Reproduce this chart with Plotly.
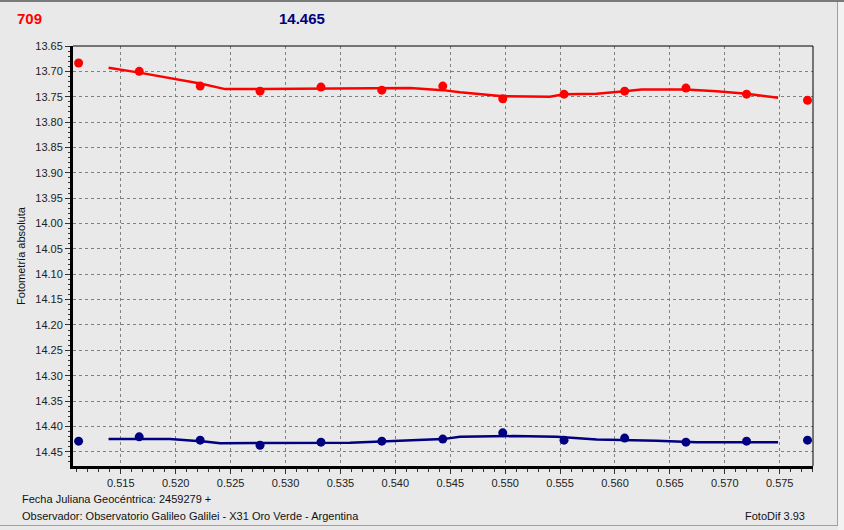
import plotly.graph_objects as go

# ---- data ----
jd_points = [0.51116, 0.51668, 0.52223, 0.52768, 0.53323, 0.53877, 0.54432,
             0.54978, 0.55536, 0.56088, 0.56646, 0.57198, 0.57753]
var_mag = [13.6835, 13.700, 13.729, 13.739, 13.731, 13.737, 13.729,
           13.754, 13.745, 13.739, 13.733, 13.745, 13.757]
cmp_mag = [14.429, 14.4205, 14.427, 14.437, 14.431, 14.429, 14.425,
           14.4126, 14.427, 14.423, 14.431, 14.429, 14.427]

var_fit_x = [0.51389, 0.51668, 0.52223, 0.52451, 0.52768, 0.53323, 0.53588,
             0.53877, 0.54134, 0.54432, 0.54589, 0.54978, 0.55407, 0.55536,
             0.55833, 0.56088, 0.56240, 0.56646, 0.56925, 0.57198, 0.57485]
var_fit_y = [13.693, 13.7025, 13.724, 13.735, 13.735, 13.734, 13.733,
             13.733, 13.733, 13.737, 13.741, 13.749, 13.750, 13.745,
             13.744, 13.739, 13.736, 13.736, 13.739, 13.744, 13.752]

cmp_fit_x = [0.51389, 0.51950, 0.52283, 0.52405, 0.53588, 0.53877, 0.54432,
             0.54589, 0.54707, 0.55071, 0.55469, 0.55833, 0.56379, 0.56743, 0.57485]
cmp_fit_y = [14.425, 14.425, 14.430, 14.433, 14.432, 14.430, 14.425,
             14.4205, 14.420, 14.419, 14.4205, 14.426, 14.428, 14.431, 14.431]

title_left = "709"
title_mid = "14.465"
y_title = "Fotometría absoluta"
foot1 = "Fecha Juliana Geocéntrica: 2459279 +"
foot2 = "Observador: Observatorio Galileo Galilei - X31 Oro Verde - Argentina"
foot3 = "FotoDif 3.93"

x_range = [0.51065, 0.57803]
y_range = [14.478, 13.65]

RED = "#ff0000"
BLUE = "#000080"
BG = "#e9e9e9"
FONT = "Liberation Sans"

fig = go.Figure()
fig.add_trace(go.Scatter(x=var_fit_x, y=var_fit_y, mode="lines",
                         line=dict(color=RED, width=2.5), hoverinfo="skip"))
fig.add_trace(go.Scatter(x=jd_points, y=var_mag, mode="markers",
                         marker=dict(color=RED, size=9), hoverinfo="skip"))
fig.add_trace(go.Scatter(x=cmp_fit_x, y=cmp_fit_y, mode="lines",
                         line=dict(color=BLUE, width=2.5), hoverinfo="skip"))
fig.add_trace(go.Scatter(x=jd_points, y=cmp_mag, mode="markers",
                         marker=dict(color=BLUE, size=9), hoverinfo="skip"))

axis_common = dict(
    showgrid=True, gridcolor="#808080", griddash="3px,3px", gridwidth=1,
    showline=True, linecolor="black", linewidth=3, zeroline=False,
    ticks="outside", ticklen=5, tickcolor="#333333",
    tickfont=dict(family=FONT, size=11, color="#222222"),
)

fig.update_xaxes(range=x_range, tick0=0.515, dtick=0.005, tickformat=".3f",
                 minor=dict(dtick=0.001, tick0=0.515, ticks="outside", ticklen=3,
                            tickcolor="#333333", showgrid=False),
                 **axis_common)
fig.update_yaxes(range=y_range, tick0=13.65, dtick=0.05, tickformat=".2f",
                 minor=dict(dtick=0.01, tick0=13.65, ticks="outside", ticklen=2,
                            tickcolor="#333333", showgrid=False),
                 title=dict(text=y_title, font=dict(family=FONT, size=11, color="#111111"),
                            standoff=8),
                 **axis_common)

W, H = 844, 530
L, R, T, B = 73, 31, 46, 64
pw, ph = W - L - R, H - T - B

def px(xp):
    return (xp - L) / pw

def py(yp):
    return 1 - (yp - T) / ph

shapes = [
    # thin top & right plot border
    dict(type="line", xref="paper", yref="paper", x0=0, x1=1, y0=1, y1=1,
         line=dict(color="black", width=1)),
    dict(type="line", xref="paper", yref="paper", x0=1, x1=1, y0=0, y1=1,
         line=dict(color="black", width=1)),
    # window frame
    dict(type="line", xref="paper", yref="paper", x0=px(0), x1=px(844), y0=py(1), y1=py(1),
         line=dict(color="#7a7a7a", width=2)),
    dict(type="line", xref="paper", yref="paper", x0=px(837.5), x1=px(837.5), y0=py(2), y1=py(525),
         line=dict(color="#a0a0a0", width=1)),
    dict(type="line", xref="paper", yref="paper", x0=px(0), x1=px(838), y0=py(525.5), y1=py(525.5),
         line=dict(color="#a0a0a0", width=1)),
    dict(type="rect", xref="paper", yref="paper", x0=px(838), x1=px(844), y0=py(2), y1=py(530),
         fillcolor="#f2f2f2", line=dict(width=0), layer="below"),
]

annotations = [
    dict(text=f"<b>{title_left}</b>", x=px(15), y=py(18), xref="paper", yref="paper",
         xanchor="left", yanchor="middle", showarrow=False,
         font=dict(family=FONT, size=15, color=RED)),
    dict(text=f"<b>{title_mid}</b>", x=px(302), y=py(18), xref="paper", yref="paper",
         xanchor="center", yanchor="middle", showarrow=False,
         font=dict(family=FONT, size=15, color=BLUE)),
    dict(text=foot1, x=px(20), y=py(499), xref="paper", yref="paper",
         xanchor="left", yanchor="middle", showarrow=False,
         font=dict(family=FONT, size=11, color="#111111")),
    dict(text=foot2, x=px(20), y=py(516), xref="paper", yref="paper",
         xanchor="left", yanchor="middle", showarrow=False,
         font=dict(family=FONT, size=11, color="#111111")),
    dict(text=foot3, x=px(807), y=py(516), xref="paper", yref="paper",
         xanchor="right", yanchor="middle", showarrow=False,
         font=dict(family=FONT, size=11, color="#111111")),
]

fig.update_layout(
    width=W, height=H,
    margin=dict(l=L, r=R, t=T, b=B, pad=0),
    paper_bgcolor=BG, plot_bgcolor=BG,
    showlegend=False,
    shapes=shapes, annotations=annotations,
    hovermode=False,
)

fig.write_html("out.html", config={"displayModeBar": False},
               post_script="document.body.style.margin='0';document.body.style.overflow='hidden';")
